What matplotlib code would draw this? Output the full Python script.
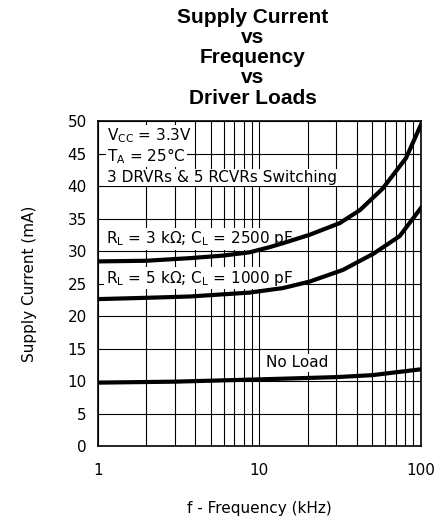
import matplotlib.pyplot as plt
from matplotlib.ticker import LogLocator, FixedLocator, NullFormatter

plt.rcParams['font.family'] = 'DejaVu Sans'

# (kHz, mA)
freq_a = [1, 2, 3.7, 6, 8.7, 11.6, 14, 20.5, 31.5, 42, 58, 81, 100]
load_a = [28.4, 28.5, 28.9, 29.3, 29.8, 30.6, 31.2, 32.5, 34.3, 36.3, 39.6, 44.3, 49.4]

freq_b = [1, 2, 3.7, 8.7, 14, 20.5, 33, 51, 74, 100]
load_b = [22.6, 22.8, 23.0, 23.6, 24.3, 25.3, 27.1, 29.6, 32.3, 36.6]

freq_c = [1, 3, 10, 30, 50, 100]
load_c = [9.75, 9.9, 10.25, 10.6, 10.9, 11.8]

y_ticks = [0, 5, 10, 15, 20, 25, 30, 35, 40, 45, 50]

fig = plt.figure(figsize=(4.37, 5.2), dpi=100)
ax = fig.add_axes([0.224, 0.1423, 0.739, 0.6250])

ax.set_xscale('log')
ax.set_xlim(1, 100)
ax.set_ylim(0, 50)

ax.xaxis.set_major_locator(FixedLocator([1, 10, 100]))
ax.xaxis.set_major_formatter(plt.FuncFormatter(lambda v, p: '%g' % v))
ax.xaxis.set_minor_locator(LogLocator(base=10, subs=range(2, 10)))
ax.xaxis.set_minor_formatter(NullFormatter())
ax.set_yticks(y_ticks)

ax.set_axisbelow(True)
ax.grid(which='both', axis='x', color='black', linewidth=0.8)
ax.grid(which='major', axis='y', color='black', linewidth=0.8)
ax.tick_params(which='both', length=0, labelsize=11)
ax.tick_params(axis='x', pad=12)
ax.tick_params(axis='y', pad=8)
for s in ax.spines.values():
    s.set_linewidth(1.2)
    s.set_zorder(4)

ax.plot(freq_a, load_a, color='black', linewidth=3, zorder=3)
ax.plot(freq_b, load_b, color='black', linewidth=3, zorder=3)
ax.plot(freq_c, load_c, color='black', linewidth=3, zorder=3)

box = dict(facecolor='white', edgecolor='none', pad=1)
ax.text(1.14, 47.8, r'V$_{\mathrm{CC}}$ = 3.3V', fontsize=11, va='center', bbox=box, zorder=2)
ax.text(1.14, 44.6, r'T$_{\mathrm{A}}$ = 25°C', fontsize=11, va='center', bbox=box, zorder=2)
ax.text(1.14, 41.3, '3 DRVRs & 5 RCVRs Switching', fontsize=11, va='center', bbox=box, zorder=2)
ax.text(1.12, 31.9, r'R$_{\mathrm{L}}$ = 3 kΩ; C$_{\mathrm{L}}$ = 2500 pF', fontsize=11, va='center', bbox=box, zorder=2)
ax.text(1.12, 25.8, r'R$_{\mathrm{L}}$ = 5 kΩ; C$_{\mathrm{L}}$ = 1000 pF', fontsize=11, va='center', bbox=box, zorder=2)
ax.text(17.1, 12.8, 'No Load', fontsize=11, va='center', ha='center', bbox=box, zorder=2)

ax.set_xlabel('f - Frequency (kHz)', fontsize=11, labelpad=17)
ax.set_ylabel('Supply Current (mA)', fontsize=11, labelpad=22)

fig.text(0.578, 0.985, 'Supply Current\nvs\nFrequency\nvs\nDriver Loads',
         ha='center', va='top', fontsize=15, fontweight='bold',
         family='Liberation Sans', linespacing=1.08)

fig.savefig('out.png', dpi=100)
